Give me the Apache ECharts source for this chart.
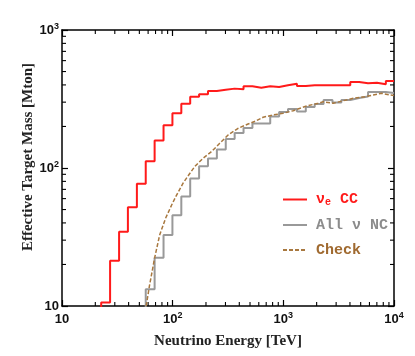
<!DOCTYPE html>
<html>
<head>
<meta charset="utf-8">
<script src="https://cdn.jsdelivr.net/npm/echarts@6/dist/echarts.min.js"></script>
<style>
  body { margin: 0; background: #fff; }
  #ichart { width: 415px; height: 356px; }
</style>
</head>
<body>
<div id="ichart"></div>
<script>
// bin edges [TeV], shared by the two histograms
var edges = [18.8, 22.6, 27.2, 32.8, 39.4, 47.5, 57.1, 68.7, 82.7, 99.5, 119.7, 144, 173.3, 208.5,
  250.9, 301.8, 363.2, 437, 525.8, 632.7, 761.3, 916.2, 1102, 1327, 1596, 1920, 2311, 2781,
  3346, 4026, 4844, 5829, 7015, 8440, 10000]

// nu_e CC, starts at edges[0] (first bin is below the axis)
var ccVals = [1, 10.6, 21.3, 34.5, 51.9, 76.9, 112, 158, 204, 249, 292, 329, 342, 361, 369, 376,
  372, 391, 382, 391, 386, 398, 408, 393, 398, 398, 398, 398, 398, 420, 411, 415, 404, 427]

// all nu NC, starts at edges[5]
var ncStart = 5
var ncVals = [1, 13.2, 22.4, 32.7, 45.4, 62.2, 83.9, 102.9, 117.2, 136.2, 162.3, 179.3, 194.9,
  210.1, 210.1, 236.2, 254.5, 267.6, 256.7, 276.7, 290.9, 311, 298.3, 311, 321.5, 329.7,
  355.4, 355.4, 349.6]

// check curve
var chkE = [57.6, 61.9, 68.7, 76.3, 86.5, 97.9, 106.5, 123.9, 139.6, 158.2, 188, 224, 266.3,
  316.6, 390, 480.2, 563.6, 656.5, 808.5, 995.8, 1227, 1622, 2065, 2292, 2823, 3477, 4282,
  5466, 6496, 7740, 9200, 10000]
var chkM = [10, 14.2, 22.3, 32.7, 43.4, 53.9, 61.9, 77.5, 89, 102.5, 117.6, 131.3, 151, 173.4,
  194, 208.4, 219.1, 233.1, 242.2, 249.1, 260.2, 281.3, 294.3, 302.2, 294.3, 307.4, 320,
  328.6, 338.1, 347.8, 338.1, 335]

// minor tick values
var xMinor = [20, 30, 40, 50, 60, 70, 80, 90, 200, 300, 400, 500, 600, 700, 800, 900,
  2000, 3000, 4000, 5000, 6000, 7000, 8000, 9000]
var yMinor = [20, 30, 40, 50, 60, 70, 80, 90, 200, 300, 400, 500, 600, 700, 800, 900]

function histo (start, vals) {
  var out = []
  for (var i = 0; i < vals.length; i++) out.push([edges[start + i], vals[i]])
  out.push([edges[start + vals.length], vals[vals.length - 1]])
  return out
}

function powLabel (v) {
  var p = Math.round(Math.log10(v))
  if (p === 1) return '{b|10}'
  return '{b|10}{sup|' + p + '}'
}

var labelRich = {
  b: { fontFamily: 'Liberation Sans', fontWeight: 'bold', fontSize: 13, color: '#111', lineHeight: 16 },
  sup: { fontFamily: 'Liberation Sans', fontWeight: 'bold', fontSize: 9, color: '#111', lineHeight: 10, verticalAlign: 'top', padding: [0, 0, 6, 0] }
}

var frame = { show: true, onZero: false, lineStyle: { color: '#000', width: 1.5 } }
var tick = { show: true, inside: true, length: 6, lineStyle: { color: '#000', width: 1.2 } }

function xax (pos, labels) {
  return {
    type: 'log', logBase: 10, min: 10, max: 10000, position: pos,
    axisLine: frame, axisTick: tick, splitLine: { show: false },
    axisLabel: { show: labels, margin: 5, formatter: powLabel, rich: labelRich },
    name: labels ? 'Neutrino Energy [TeV]' : '',
    nameLocation: 'middle', nameGap: 28,
    nameTextStyle: { fontFamily: 'Liberation Serif', fontWeight: 'bold', fontSize: 15, color: '#222' }
  }
}
function yax (pos, labels) {
  return {
    type: 'log', logBase: 10, min: 10, max: 1000, position: pos,
    axisLine: frame, axisTick: tick, splitLine: { show: false },
    axisLabel: { show: labels, margin: 3, formatter: powLabel, rich: labelRich }
  }
}

function minorSeries (vals, isX) {
  return {
    type: 'custom',
    silent: true,
    clip: false,
    data: vals.map(function (v) { return isX ? [v, 10] : [10, v] }),
    renderItem: function (params, api) {
      var v = api.value(isX ? 0 : 1)
      var a = api.coord(isX ? [v, 10] : [10, v])
      var b = api.coord(isX ? [v, 1000] : [10000, v])
      var st = { stroke: '#000', lineWidth: 1.1 }
      var L = 4
      if (isX) {
        return { type: 'group', children: [
          { type: 'line', shape: { x1: a[0], y1: a[1], x2: a[0], y2: a[1] - L }, style: st },
          { type: 'line', shape: { x1: b[0], y1: b[1], x2: b[0], y2: b[1] + L }, style: st }
        ] }
      }
      return { type: 'group', children: [
        { type: 'line', shape: { x1: a[0], y1: a[1], x2: a[0] + L, y2: a[1] }, style: st },
        { type: 'line', shape: { x1: b[0], y1: b[1], x2: b[0] - L, y2: b[1] }, style: st }
      ] }
    }
  }
}

var myChart = echarts.init(document.getElementById('ichart'))
var option = {
  animation: false,
  backgroundColor: '#fff',
  grid: { left: 62, right: 21, top: 30, bottom: 50 },
  xAxis: [xax('bottom', true), xax('top', false)],
  yAxis: [yax('left', true), yax('right', false)],
  legend: {
    orient: 'vertical', left: 282, top: 192, padding: 0,
    itemWidth: 24, itemHeight: 14, itemGap: 10,
    itemStyle: { opacity: 0 }, // hide the round symbol, keep the line
    textStyle: {
      fontFamily: 'Liberation Mono', fontWeight: 'bold', fontSize: 15, padding: [0, 0, 0, 4],
      rich: {
        sub: { fontFamily: 'Liberation Mono', fontWeight: 'bold', fontSize: 10, color: '#ff1a1a', verticalAlign: 'bottom', padding: [6, 0, 0, 0] }
      }
    },
    formatter: function (name) {
      if (name === 'νe CC') return 'ν{sub|e} CC'
      return name
    },
    data: [
      { name: 'νe CC', textStyle: { color: '#ff1a1a' } },
      { name: 'All ν NC', textStyle: { color: '#8c8c8c' } },
      { name: 'Check', textStyle: { color: '#a06a30' } }
    ]
  },
  graphic: [{
    type: 'text', x: 28, y: 157, rotation: Math.PI / 2,
    style: {
      text: 'Effective Target Mass [Mton]', fill: '#222',
      font: 'bold 15px "Liberation Serif"',
      textAlign: 'center', textVerticalAlign: 'middle', align: 'center', verticalAlign: 'middle'
    }
  }],
  series: [
    {
      name: 'νe CC', type: 'line', step: 'end', symbol: 'none',
      lineStyle: { color: '#ff1a1a', width: 2 }, itemStyle: { color: '#ff1a1a' },
      data: histo(0, ccVals)
    },
    {
      name: 'All ν NC', type: 'line', step: 'end', symbol: 'none',
      lineStyle: { color: '#999', width: 2 }, itemStyle: { color: '#999' },
      data: histo(ncStart, ncVals)
    },
    {
      name: 'Check', type: 'line', symbol: 'none',
      lineStyle: { color: '#a8783f', width: 1.5, type: [4, 2] }, itemStyle: { color: '#a8783f' },
      data: chkE.map(function (e, i) { return [e, chkM[i]] })
    },
    minorSeries(xMinor, true),
    minorSeries(yMinor, false)
  ]
}
myChart.setOption(option)
</script>
</body>
</html>
